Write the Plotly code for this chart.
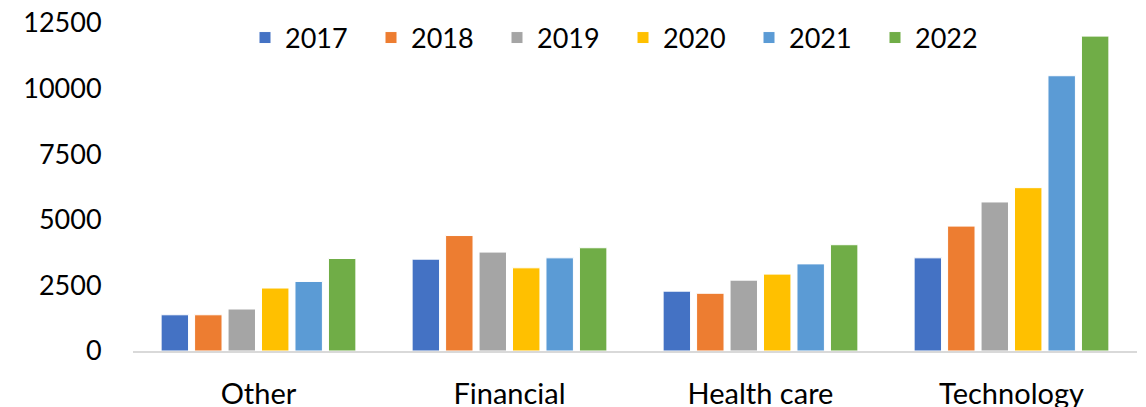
import plotly.graph_objects as go

categories = ["Other", "Financial", "Health care", "Technology"]
years = ["2017", "2018", "2019", "2020", "2021", "2022"]
v2017 = [1380, 3500, 2280, 3550]
v2018 = [1380, 4400, 2200, 4760]
v2019 = [1600, 3770, 2700, 5680]
v2020 = [2400, 3170, 2930, 6225]
v2021 = [2650, 3550, 3320, 10490]
v2022 = [3525, 3935, 4050, 12000]
series = [v2017, v2018, v2019, v2020, v2021, v2022]
colors = ["#4472C4", "#ED7D31", "#A5A5A5", "#FFC000", "#5B9BD5", "#70AD47"]
yticks = [0, 2500, 5000, 7500, 10000, 12500]

fig = go.Figure()
for name, vals, c in zip(years, series, colors):
    fig.add_trace(go.Bar(x=categories, y=vals, name=name,
                         marker=dict(color=c, line=dict(color="white", width=1))))

# page body has an 8px offset; figure sized to fill the rest of the window
W, H = 1138, 399
ml, mr, mt, mb = 125, 9, 15, 56
fig.update_layout(
    width=W, height=H,
    margin=dict(l=ml, r=mr, t=mt, b=mb, autoexpand=False),
    paper_bgcolor="white", plot_bgcolor="white",
    barmode="group", bargap=0.2, bargroupgap=0.18,
    font=dict(family="Lato", size=28, color="#000000"),
    showlegend=True,
    legend=dict(orientation="h", x=(237 - ml) / (W - ml - mr), xanchor="left",
                y=1 - (30 - mt) / (H - mt - mb), yanchor="middle",
                entrywidth=81, entrywidthmode="pixels",
                font=dict(family="Lato", size=27), bgcolor="rgba(0,0,0,0)",
                traceorder="normal"),
    xaxis=dict(showline=True, linecolor="#D9D9D9", linewidth=1.5, showgrid=False,
               ticks="outside", ticklen=16, tickcolor="rgba(0,0,0,0)",
               tickfont=dict(family="Lato", size=29), ticklabeloverflow="allow"),
    yaxis=dict(range=[0, 12500], tickvals=yticks, ticktext=[str(t) for t in yticks],
               showgrid=False, showline=False, zeroline=False,
               ticks="outside", ticklen=25, tickcolor="rgba(0,0,0,0)",
               tickfont=dict(family="Lato", size=27), ticklabeloverflow="allow"),
)
fig.write_html("out.html")
